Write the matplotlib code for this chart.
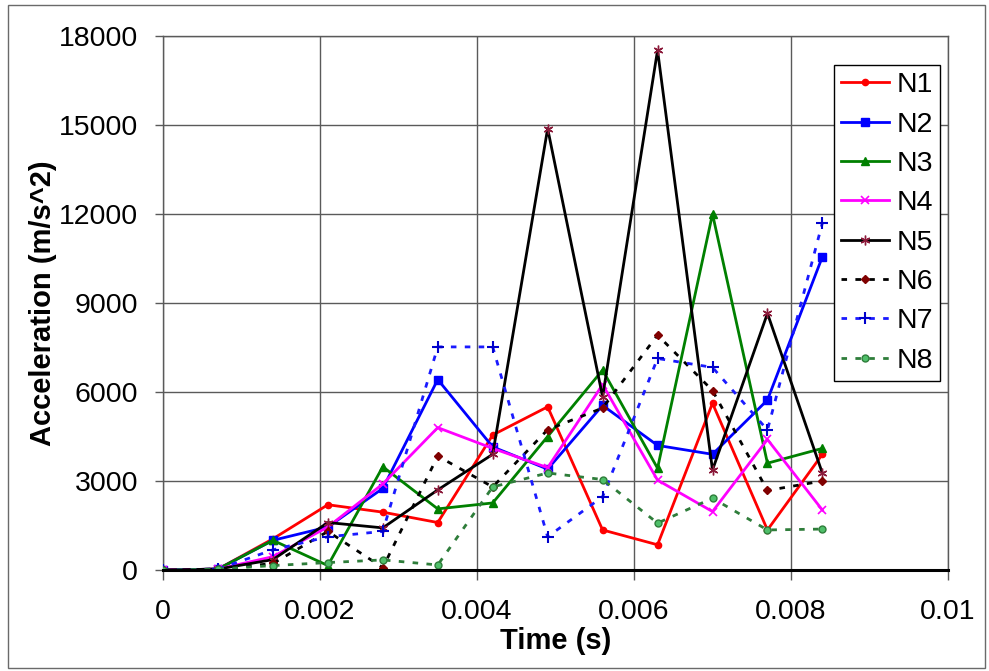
import matplotlib
matplotlib.use("Agg")
import matplotlib.pyplot as plt
from matplotlib.patches import Rectangle
from matplotlib.ticker import FuncFormatter, MultipleLocator

plt.rcParams['font.family'] = ['Liberation Sans', 'DejaVu Sans']

time_s = [0, 0.0007, 0.0014, 0.0021, 0.0028, 0.0035, 0.0042, 0.0049,
          0.0056, 0.0063, 0.0070, 0.0077, 0.0084]

N1 = [0, 30, 1050, 2200, 1950, 1600, 4550, 5500, 1350, 850, 5620, 1350, 3900]
N2 = [0, 30, 1000, 1450, 2750, 6420, 4150, 3400, 5550, 4200, 3900, 5730, 10560]
N3 = [0, 30, 1000, 150, 3480, 2060, 2260, 4500, 6740, 3430, 12000, 3600, 4100]
N4 = [0, 30, 450, 1450, 2900, 4800, 4100, 3450, 6250, 3030, 1970, 4400, 2020]
N5 = [0, 30, 350, 1600, 1420, 2700, 3900, 14880, 5840, 17520, 3370, 8650, 3260]
N6 = [0, 30, 220, 1300, 80, 3840, 2800, 4730, 5460, 7920, 6050, 2680, 3000]
N7 = [0, 30, 680, 1120, 1300, 7520, 7520, 1120, 2470, 7130, 6830, 4720, 11700]
N8 = [0, 30, 150, 250, 340, 170, 2800, 3270, 3050, 1580, 2420, 1350, 1380]

series_names = ["N1", "N2", "N3", "N4", "N5", "N6", "N7", "N8"]

fig = plt.figure(figsize=(9.89, 6.71), dpi=100)
W, H = 989, 671
ax = fig.add_axes([163 / W, (H - 570) / H, (948 - 163) / W, (570 - 36) / H])

dash = (0, (2.0, 3.0))
styles = [
    dict(color='#ff0000', ls='-', lw=2.0, marker='o', ms=4.5, mfc='#ff0000', mec='#ff0000'),
    dict(color='#0000ff', ls='-', lw=2.0, marker='s', ms=5.5, mfc='#0000ff', mec='#0000ff'),
    dict(color='#008000', ls='-', lw=2.0, marker='^', ms=5.5, mfc='#008000', mec='#008000'),
    dict(color='#ff00ff', ls='-', lw=2.0, marker='x', ms=6, mfc='#ff00ff', mec='#ff00ff', mew=1.2),
    dict(color='#000000', ls='-', lw=2.0, marker=(6, 2, 0), ms=7, mfc='#8b1a3a', mec='#8b1a3a', mew=1.0),
    dict(color='#000000', ls=dash, lw=2.0, marker='D', ms=4.5, mfc='#800000', mec='#800000'),
    dict(color='#1a1aff', ls=dash, lw=2.0, marker='+', ms=8, mfc='#0000cc', mec='#0000cc', mew=1.5),
    dict(color='#2e7d3a', ls=dash, lw=2.0, marker='o', ms=5, mfc='#4fbf6a', mec='#2e7d3a', mew=1.0),
]

data = [N1, N2, N3, N4, N5, N6, N7, N8]
for name, vals, st in zip(series_names, data, styles):
    ax.plot(time_s, vals, label=name, zorder=3, **st)

ax.set_xlim(0, 0.01)
ax.set_ylim(0, 18000)
ax.xaxis.set_major_locator(MultipleLocator(0.002))
ax.yaxis.set_major_locator(MultipleLocator(3000))
ax.xaxis.set_major_formatter(FuncFormatter(lambda v, p: "0" if abs(v) < 1e-12 else ("%g" % round(v, 6))))
ax.yaxis.set_major_formatter(FuncFormatter(lambda v, p: "%d" % round(v)))

ax.grid(True, color='#5a5a5a', lw=1.0, zorder=0)
ax.set_axisbelow(True)
for s in ['top', 'right', 'left']:
    ax.spines[s].set_color('#5a5a5a')
    ax.spines[s].set_linewidth(1.0)
ax.spines['bottom'].set_color('#000000')
ax.spines['bottom'].set_linewidth(2.2)
ax.spines['bottom'].set_zorder(4)

ax.tick_params(axis='y', direction='out', length=6, width=1.0, color='#5a5a5a',
               labelsize=20.5, pad=12)
ax.tick_params(axis='x', direction='out', length=7, width=1.0, color='#5a5a5a',
               labelsize=20.5, pad=14)

ax.set_xlabel("Time (s)", fontsize=21, fontweight='bold')
ax.set_ylabel("Acceleration (m/s^2)", fontsize=21, fontweight='bold')
ax.xaxis.set_label_coords(0.5, (570 - 627) / 534)
ax.yaxis.set_label_coords((57 - 163) / 785, 0.5)

leg = ax.legend(loc='upper right', bbox_to_anchor=((940 - 163) / 785, (570 - 65) / 534),
                borderaxespad=0, fontsize=20.5, frameon=True, fancybox=False,
                edgecolor='#000000', framealpha=1.0, handlelength=1.7,
                handletextpad=0.25, labelspacing=0.47, borderpad=0.25)
leg.get_frame().set_linewidth(1.0)
leg.set_zorder(5)

# outer chart border
fig.patches.append(Rectangle((8 / W, (H - 668) / H), (985 - 8) / W, (668 - 5) / H,
                             transform=fig.transFigure, fill=False,
                             edgecolor='#6a6a6a', lw=1.0))

fig.savefig("out.png", dpi=100)
